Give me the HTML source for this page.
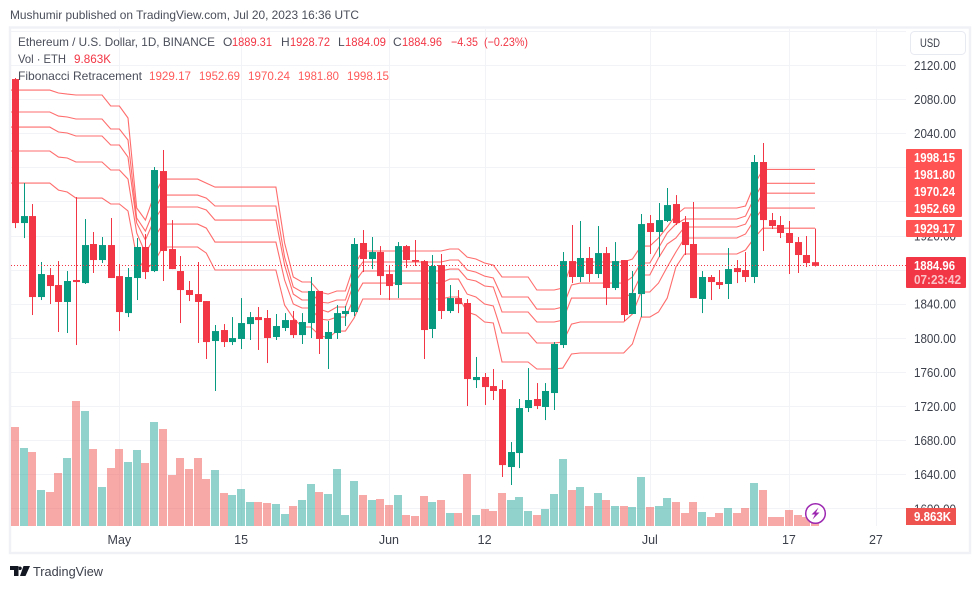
<!DOCTYPE html>
<html lang="en">
<head>
<meta charset="utf-8">
<title>ETH/USD TradingView Chart</title>
<style>
html,body{margin:0;padding:0;background:#fff;}
svg{display:block;font-family:"Liberation Sans",sans-serif;}
text{white-space:pre;}
.t{fill:#4a4e5a;font-size:12px;}
.v{fill:#f23645;font-size:12px;}
.f{fill:#ff5a5a;font-size:12px;}
.ax{fill:#3c404b;font-size:12.5px;}
.lb{fill:#fff;font-size:12.5px;font-weight:bold;}
</style>
</head>
<body>
<svg id="chart" width="980" height="589" viewBox="0 0 980 589" xmlns="http://www.w3.org/2000/svg">
  <rect x="0" y="0" width="980" height="589" fill="#ffffff"/>
  <text x="10" y="19" class="t" textLength="349" lengthAdjust="spacingAndGlyphs">Mushumir published on TradingView.com, Jul 20, 2023 16:36 UTC</text>
  <rect x="10" y="27.5" width="960" height="525.5" fill="none" stroke="#f0f1f6" stroke-width="2.4"/>
  <g id="grid"></g>
  <g id="volumes"></g>
  <g id="fib"></g>
  <g id="candles"></g>
  <line id="lastLine" x1="11" x2="906" stroke="#f23645" stroke-width="1" stroke-dasharray="1 2"/>
  <g id="priceAxis"></g>
  <g id="timeAxis"></g>

  <g>
    <text x="18" y="46" class="t" textLength="197" lengthAdjust="spacingAndGlyphs">Ethereum / U.S. Dollar, 1D, BINANCE</text>
    <text x="223" y="46" class="t">O</text>
    <text x="232" y="46" class="v" textLength="40" lengthAdjust="spacingAndGlyphs">1889.31</text>
    <text x="281" y="46" class="t">H</text>
    <text x="290" y="46" class="v" textLength="40" lengthAdjust="spacingAndGlyphs">1928.72</text>
    <text x="338" y="46" class="t">L</text>
    <text x="345" y="46" class="v" textLength="41" lengthAdjust="spacingAndGlyphs">1884.09</text>
    <text x="393" y="46" class="t">C</text>
    <text x="402" y="46" class="v" textLength="40" lengthAdjust="spacingAndGlyphs">1884.96</text>
    <text x="451" y="46" class="v" textLength="27" lengthAdjust="spacingAndGlyphs">−4.35</text>
    <text x="484" y="46" class="v" textLength="44" lengthAdjust="spacingAndGlyphs">(−0.23%)</text>
  </g>
  <g>
    <text x="18" y="63" class="t" textLength="48" lengthAdjust="spacingAndGlyphs">Vol · ETH</text>
    <text x="74" y="63" class="v" textLength="37" lengthAdjust="spacingAndGlyphs">9.863K</text>
  </g>
  <g>
    <text x="18" y="80" class="t" textLength="124" lengthAdjust="spacingAndGlyphs">Fibonacci Retracement</text>
    <text x="149" y="80" class="f" textLength="42" lengthAdjust="spacingAndGlyphs">1929.17</text>
    <text x="199" y="80" class="f" textLength="41" lengthAdjust="spacingAndGlyphs">1952.69</text>
    <text x="248" y="80" class="f" textLength="42" lengthAdjust="spacingAndGlyphs">1970.24</text>
    <text x="298" y="80" class="f" textLength="41" lengthAdjust="spacingAndGlyphs">1981.80</text>
    <text x="347" y="80" class="f" textLength="42" lengthAdjust="spacingAndGlyphs">1998.15</text>
  </g>

  <g>
    <rect x="910.5" y="31.5" width="55" height="23" rx="4" fill="#fff" stroke="#e8eaf2"/>
    <text x="920" y="47" class="ax" style="font-size:11.5px" textLength="20" lengthAdjust="spacingAndGlyphs">USD</text>
  </g>

  <g>
    <rect x="906" y="149" width="56" height="68" rx="1" fill="#ff5252"/>
    <text x="914" y="162" class="lb" textLength="41" lengthAdjust="spacingAndGlyphs">1998.15</text>
    <text x="914" y="179" class="lb" textLength="41" lengthAdjust="spacingAndGlyphs">1981.80</text>
    <text x="914" y="196" class="lb" textLength="41" lengthAdjust="spacingAndGlyphs">1970.24</text>
    <text x="914" y="213" class="lb" textLength="41" lengthAdjust="spacingAndGlyphs">1952.69</text>
    <rect x="906" y="220" width="56" height="17" rx="1" fill="#ff5252"/>
    <text x="914" y="233" class="lb" textLength="41" lengthAdjust="spacingAndGlyphs">1929.17</text>
  </g>
  <g>
    <rect x="906" y="257" width="60" height="31" rx="1" fill="#f23645"/>
    <text x="914" y="270" class="lb" textLength="41" lengthAdjust="spacingAndGlyphs">1884.96</text>
    <text x="914" y="284" fill="#fbc4c8" font-size="12.5" font-weight="bold" textLength="47" lengthAdjust="spacingAndGlyphs">07:23:42</text>
  </g>
  <g>
    <rect x="906" y="508" width="50" height="17" fill="#ef5350"/>
    <text x="914" y="521" class="lb" textLength="37" lengthAdjust="spacingAndGlyphs">9.863K</text>
  </g>

  <g>
    <circle cx="815.5" cy="513.5" r="9.8" fill="#fff" stroke="#9c27b0" stroke-width="1.5"/>
    <polygon points="818.5,507.5 811.5,514.5 815,514.5 812.5,519.5 819.5,512.5 816,512.5" fill="#9c27b0"/>
  </g>

  <g>
    <path d="M10 566h8.5v10h-4.5v-6h-4z M20 566.5a1.8 1.8 0 1 0 .01 0z M23.5 566h6.5l-4.5 10h-5.5z" fill="#131722"/>
    <text x="33" y="576" fill="#3c404b" font-size="13" textLength="70" lengthAdjust="spacingAndGlyphs">TradingView</text>
  </g>
</svg>
<script>
var categoriesStartDay = "Apr 19";
var opens = [2104.1,1935.2,1943.4,1848.4,1874.2,1862.5,1842.6,1868.4,1864.8,1910.6,
1891.8,1909.4,1873,1829.6,1870.7,1907.1,1878.9,1996.2,1904.7,1878.9,
1856.6,1851.9,1843.7,1796.8,1809.7,1795.6,1799.2,1816.7,1824.9,1823.8,
1801.5,1812.1,1821.4,1803.8,1817.9,1855.5,1799.2,1806.2,1828.5,1830.8,
1911.8,1893,1901.2,1875.4,1862.5,1908.2,1891.8,1890.6,1810.9,1885.9,
1832,1847.2,1841.4,1751,1754.6,1744,1740.5,1649,1665.4,1718.2,
1728.8,1719.4,1735.8,1792.1,1890.6,1871.9,1894.2,1875.4,1900,1859,
1891.8,1828.5,1851.9,1935.2,1924.7,1937.6,1957.5,1936.4,1910.6,1846.1,
1871.9,1866,1863.7,1882.4,1880.1,1871.9,2006.8,1938.7,1932.9,1923.5,
1912.9,1897.7,1889.31];
var closes = [1935.2,1943.4,1848.4,1875.4,1861.3,1842.6,1867.2,1866,1909.4,1891.8,
1909.4,1870.7,1830.8,1871.9,1907.1,1877.7,1997.4,1902.4,1881.2,1856.6,
1850.8,1842.6,1795.6,1808.5,1795.6,1800.3,1817.9,1824.9,1821.4,1800.3,
1814.4,1821.4,1803.8,1819.1,1855.5,1799.2,1807.4,1829.6,1832,1910.6,
1893,1901.2,1873,1861.3,1908.2,1891.8,1890.6,1809.7,1884.8,1832,
1847.2,1840.2,1752.2,1754.6,1742.8,1738.2,1651.3,1666.6,1718.2,1727.6,
1720.6,1738.2,1793.3,1890.6,1871.9,1894.2,1875.4,1900,1859,1890.6,
1827.3,1853.1,1934,1924.7,1938.7,1956.3,1935.2,1909.4,1847.2,1871.9,
1866,1862.5,1881.2,1877.7,1871.9,2006.8,1938.7,1931.7,1923.5,1911.8,
1897.7,1888.3,1884.96];
var highs = [2105.3,1982.1,1957.5,1889.5,1882.4,1890.6,1878.9,1965.7,1939.9,1924.7,
1918.8,1941.1,1887.1,1882.4,1917.6,1922.3,2000.9,2020.9,1938.7,1896.5,
1867.2,1889.5,1843.7,1815.6,1816.7,1824.9,1847.2,1830.8,1836.7,1833.2,
1828.5,1829.6,1832,1829.6,1871.9,1855.5,1820.3,1839,1837.9,1917.6,
1927,1918.8,1908.2,1885.9,1912.9,1909.4,1915.3,1891.8,1897.7,1898.9,
1862.5,1856.6,1846.1,1778.1,1759.3,1764,1751,1678.3,1728.8,1765.1,
1747.5,1747.5,1795.6,1901.2,1932.9,1937.6,1907.1,1931.7,1907.1,1912.9,
1891.8,1878.9,1945.8,1944.6,1958.7,1976.3,1968,1943.4,1959.9,1878.9,
1874.2,1880.1,1905.9,1891.8,1901.2,2015,2029.1,1947,1943.4,1937.6,
1918.8,1920,1928.72];
var lows = [1929.3,1917.6,1827.3,1844.9,1840.2,1807.4,1806.2,1792.1,1863.7,1876.6,
1888.3,1870.7,1808.5,1824.9,1844.9,1869.5,1877.7,1867.2,1881.2,1817.9,
1843.7,1794.5,1775.7,1738.2,1789.8,1792.1,1787.4,1798,1786.3,1771,
1798,1808.5,1800.3,1793.3,1800.3,1781.6,1764,1799.2,1814.4,1826.1,
1877.7,1881.2,1850.8,1844.9,1847.2,1882.4,1884.8,1775.7,1800.3,1822.6,
1829.6,1829.6,1720.6,1741.7,1721.8,1727.6,1637.3,1627.9,1647.8,1713.5,
1717,1704.1,1715.9,1788.6,1864.8,1866,1866,1870.7,1839,1856.6,
1820.3,1828.5,1824.9,1898.9,1895.3,1936.4,1932.9,1897.7,1847.2,1829.6,
1844.9,1857.8,1846.1,1864.8,1866,1864.8,1902.4,1928.2,1917.6,1875.4,
1876.6,1883.6,1884.09];
var volumes = [99,78,74,36,34,53,68,125,115,77,
39,58,77,64,76,63,104,97,51,68,
57,68,47,56,33,31,37,24,24,23,
22,12,20,26,42,34,32,57,11,45,
31,26,27,21,31,11,10,30,24,26,
13,13,52,11,17,15,33,26,29,15,
11,17,32,67,36,39,20,33,26,20,
20,19,49,19,20,28,24,13,24,14,
9,13,18,13,18,43,36,9,9,16,
11,9,9.863];
var fibLevel1 = [2091.2,2091.2,2091.2,2091.2,2091.2,2087.7,2086.5,2085.4,2085.4,2085.4,
2085.4,2072.5,2072.5,2058.4,1952.8,1938.7,1968,1986.8,1986.8,1986.8,
1986.8,1986.8,1982.1,1977.4,1977.4,1977.4,1977.4,1977.4,1977.4,1977.4,
1977.4,1911.8,1871.9,1866,1866,1854.3,1851.9,1855.5,1855.5,1885.9,
1902.4,1902.4,1902.4,1902.4,1902.4,1902.4,1902.4,1902.4,1902.4,1902.4,
1904.7,1904.7,1895.3,1893,1888.3,1885.9,1871.9,1871.9,1871.9,1871.9,
1856.6,1856.6,1856.6,1859,1887.1,1889.5,1889.5,1889.5,1889.5,1889.5,
1889.5,1893,1908.2,1908.2,1917.6,1930.5,1944.6,1952.8,1952.8,1952.8,
1952.8,1952.8,1952.8,1952.8,1955.2,1979.8,1998.15,1998.15,1998.15,1998.15,
1998.15,1998.15,1998.15];
var fibLevel2 = [2065.4,2065.4,2065.4,2065.4,2065.4,2060.7,2059.6,2057.2,2057.2,2057.2,
2057.2,2045.5,2045.5,2032.6,1941.1,1925.8,1950.5,1968,1968,1968,
1968,1968,1964.5,1955.2,1955.2,1955.2,1955.2,1955.2,1955.2,1955.2,
1955.2,1895.3,1860.2,1854.3,1854.3,1842.6,1841.4,1844.9,1844.9,1874.2,
1889.5,1889.5,1889.5,1889.5,1889.5,1889.5,1889.5,1889.5,1889.5,1889.5,
1891.8,1891.8,1880.1,1877.7,1873,1870.7,1848.4,1848.4,1848.4,1848.4,
1834.3,1834.3,1834.3,1836.7,1862.5,1864.8,1864.8,1864.8,1864.8,1864.8,
1864.8,1871.9,1888.3,1888.3,1905.9,1923.5,1934,1939.9,1939.9,1939.9,
1939.9,1939.9,1939.9,1939.9,1943.4,1964.5,1981.8,1981.8,1981.8,1981.8,
1981.8,1981.8,1981.8];
var fibLevel3 = [2047.8,2047.8,2047.8,2047.8,2047.8,2042,2040.8,2037.3,2037.3,2037.3,
2037.3,2026.7,2026.7,2012.6,1935.2,1915.3,1938.7,1954,1954,1954,
1954,1954,1950.5,1938.7,1938.7,1938.7,1938.7,1938.7,1938.7,1938.7,
1938.7,1885.9,1851.9,1844.9,1844.9,1834.3,1830.8,1836.7,1836.7,1864.8,
1878.9,1878.9,1878.9,1878.9,1878.9,1878.9,1878.9,1878.9,1878.9,1878.9,
1881.2,1881.2,1869.5,1867.2,1861.3,1860.2,1830.8,1830.8,1830.8,1830.8,
1819.1,1819.1,1819.1,1821.4,1847.2,1847.2,1847.2,1847.2,1847.2,1847.2,
1847.2,1853.1,1874.2,1874.2,1894.2,1910.6,1917.6,1930.5,1930.5,1930.5,
1930.5,1930.5,1930.5,1930.5,1934,1952.8,1970.24,1970.24,1970.24,1970.24,
1970.24,1970.24,1970.24];
var fibLevel4 = [2019.7,2019.7,2019.7,2019.7,2019.7,2012.6,2011.5,2006.8,2006.8,2006.8,
2006.8,1997.4,1997.4,1986.8,1923.5,1900,1917.6,1934,1934,1934,
1934,1934,1929.3,1912.9,1912.9,1912.9,1912.9,1912.9,1912.9,1912.9,
1912.9,1868.4,1840.2,1835.5,1835.5,1822.6,1821.4,1824.9,1824.9,1847.2,
1864.8,1864.8,1864.8,1864.8,1864.8,1864.8,1864.8,1864.8,1864.8,1864.8,
1869.5,1869.5,1851.9,1848.4,1840.2,1837.9,1806.2,1806.2,1806.2,1806.2,
1794.5,1794.5,1794.5,1795.6,1816.7,1819.1,1819.1,1819.1,1819.1,1819.1,
1819.1,1828.5,1854.3,1854.3,1864.8,1883.6,1901.2,1917.6,1917.6,1917.6,
1917.6,1917.6,1917.6,1917.6,1922.3,1938.7,1952.69,1952.69,1952.69,1952.69,
1952.69,1952.69,1952.69];
var fibLevel5 = [1982.1,1982.1,1982.1,1982.1,1982.1,1973.9,1971.6,1964.5,1964.5,1964.5,
1964.5,1957.5,1957.5,1949.3,1895.3,1880.1,1889.5,1907.1,1907.1,1907.1,
1907.1,1907.1,1900,1880.1,1880.1,1880.1,1880.1,1880.1,1880.1,1880.1,
1880.1,1839,1823.8,1813.2,1813.2,1803.8,1800.3,1808.5,1808.5,1823.8,
1846.1,1846.1,1846.1,1846.1,1846.1,1846.1,1846.1,1846.1,1846.1,1846.1,
1848.4,1848.4,1830.8,1827.3,1819.1,1817.9,1772.2,1772.2,1772.2,1772.2,
1764,1764,1764,1765.1,1781.6,1782.7,1782.7,1782.7,1782.7,1782.7,
1782.7,1793.3,1824.9,1824.9,1830.8,1847.2,1883.6,1898.9,1898.9,1898.9,
1898.9,1898.9,1898.9,1898.9,1903.6,1917.6,1929.17,1929.17,1929.17,1929.17,
1929.17,1929.17,1929.17];
var priceTicks = [2160,2120,2080,2040,2000,1960,1920,1880,1840,1800,1760,1720,1680,1640,1600];
var priceTickLabels = ["2120.00","2080.00","2040.00","2000.00","1960.00","1920.00","1880.00","1840.00","1800.00","1760.00","1720.00","1680.00","1640.00","1600.00"];
var timeTickBars = [12,26,43,54,73,89,99];
var timeTickLabels = ["May","15","Jun","12","Jul","17","27"];

var NS = "http://www.w3.org/2000/svg";
var UP = "#089981", DOWN = "#f23645";
function xAt(i){ return 15 + 8.696 * i; }
function yAt(p){ return 65.5 + (2120 - p) * 0.8525; }
function hVol(v){ return v * 1.0; }
function mk(tag, parent){ var e = document.createElementNS(NS, tag); parent.appendChild(e); return e; }
var gridG = document.getElementById("grid");
var volG = document.getElementById("volumes");
var fibG = document.getElementById("fib");
var candleG = document.getElementById("candles");
var priceG = document.getElementById("priceAxis");
var timeG = document.getElementById("timeAxis");

priceTicks.forEach(function(p){
  var l = mk("line", gridG);
  
  
  var y = Math.floor(yAt(p)) + 0.5;
  l.setAttribute("x1", 11); l.setAttribute("x2", 906);
  l.setAttribute("y1", y); l.setAttribute("y2", y);
  l.setAttribute("stroke", "#f2f3f7");
});
timeTickBars.forEach(function(b, k){
  var x = Math.round(xAt(b)) + 0.5;
  var l = mk("line", gridG);
  
  
  l.setAttribute("x1", x); l.setAttribute("x2", x);
  l.setAttribute("y1", 29); l.setAttribute("y2", 526);
  l.setAttribute("stroke", "#f2f3f7");
  var t = mk("text", timeG);
  
  
  t.setAttribute("x", xAt(b));
  t.setAttribute("y", 544);
  t.setAttribute("text-anchor", "middle");
  t.setAttribute("class", "ax");
  t.textContent = timeTickLabels[k];
});
priceTickLabels.forEach(function(s){
  var t = mk("text", priceG);
  
  
  t.setAttribute("x", 914);
  t.setAttribute("y", yAt(parseFloat(s)) + 4.5);
  t.setAttribute("class", "ax");
  t.setAttribute("textLength", "42");
  t.setAttribute("lengthAdjust", "spacingAndGlyphs");
  t.textContent = s;
});
volumes.forEach(function(v, i){
  var r = mk("rect", volG);
  
  
  var h = hVol(v);
  r.setAttribute("x", Math.round(xAt(i) - 4));
  r.setAttribute("y", 526 - h);
  r.setAttribute("width", 8);
  r.setAttribute("height", h);
  r.setAttribute("shape-rendering", "crispEdges");
  r.setAttribute("fill", closes[i] >= opens[i] ? "rgba(38,166,154,0.5)" : "rgba(239,83,80,0.5)");
});
[fibLevel1, fibLevel2, fibLevel3, fibLevel4, fibLevel5].forEach(function(series, k){
  var d = "M11 " + yAt(series[0]).toFixed(1);
  series.forEach(function(p, i){ d += " L" + xAt(i).toFixed(1) + " " + yAt(p).toFixed(1); });
  var path = mk("path", fibG);
  
  
  path.setAttribute("d", d);
  path.setAttribute("fill", "none");
  path.setAttribute("stroke", "#ff5252");
  path.setAttribute("stroke-opacity", "0.85");
  path.setAttribute("stroke-width", "1.1");
});
opens.forEach(function(o, i){
  var c = closes[i], col = c >= o ? UP : DOWN;
  var cx = Math.round(xAt(i));
  var w = mk("rect", candleG);
  
  
  w.setAttribute("x", cx);
  w.setAttribute("y", yAt(highs[i]));
  w.setAttribute("width", 1);
  w.setAttribute("height", Math.max(1, yAt(lows[i]) - yAt(highs[i])));
  w.setAttribute("fill", col);
  var b = mk("rect", candleG);
  
  
  var top = yAt(Math.max(o, c));
  b.setAttribute("x", cx - 3);
  b.setAttribute("y", top);
  b.setAttribute("width", 7);
  b.setAttribute("height", Math.max(1.5, yAt(Math.min(o, c)) - top));
  b.setAttribute("fill", col);
});
var lastLine = document.getElementById("lastLine");
var lastY = Math.floor(yAt(closes[closes.length - 1])) + 0.5;
lastLine.setAttribute("y1", lastY);
lastLine.setAttribute("y2", lastY);
</script>
</body>
</html>
